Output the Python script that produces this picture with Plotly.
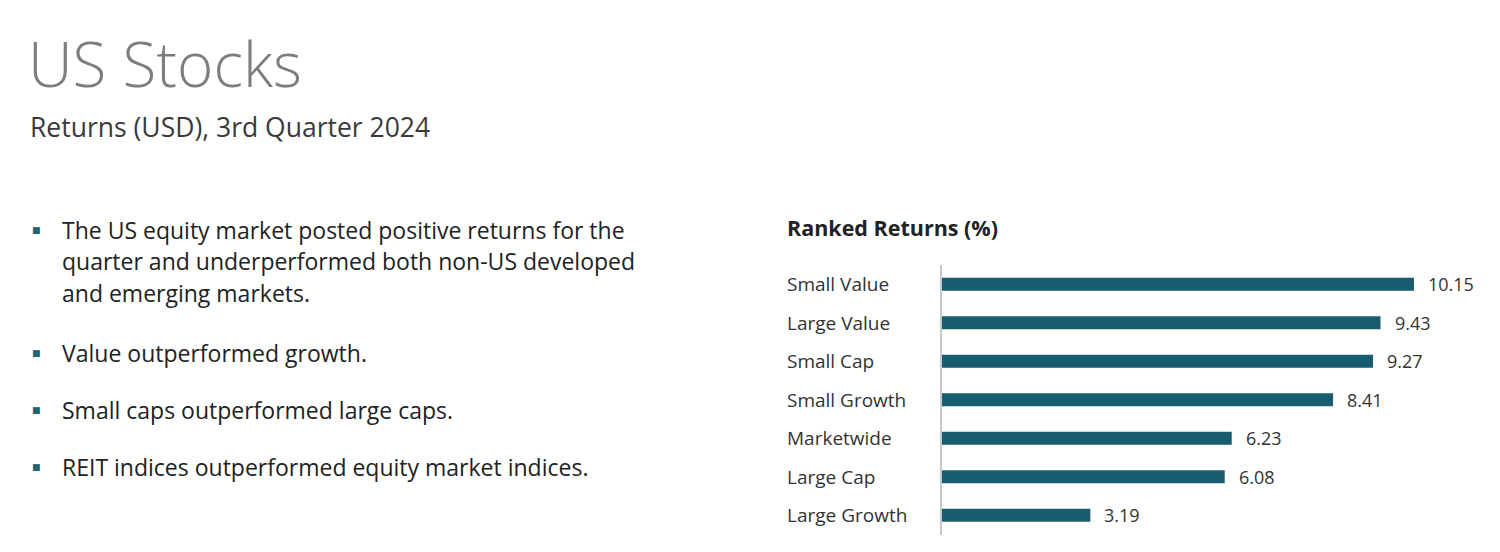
import plotly.graph_objects as go

categories = ["Small Value", "Large Value", "Small Cap", "Small Growth", "Marketwide", "Large Cap", "Large Growth"]
returns = [10.15, 9.43, 9.27, 8.41, 6.23, 6.08, 3.19]
value_labels = ["10.15", "9.43", "9.27", "8.41", "6.23", "6.08", "3.19"]

title_text = "US Stocks"
subtitle_text = "Returns (USD), 3rd Quarter 2024"
chart_title = "Ranked Returns (%)"
bullet_lines = [
    ["The US equity market posted positive returns for the",
     "quarter and underperformed both non-US developed",
     "and emerging markets."],
    ["Value outperformed growth."],
    ["Small caps outperformed large caps."],
    ["REIT indices outperformed equity market indices."],
]

# page body has an 8px margin; size the figure so it fits the 1500x552 window
OFF = 8
W, H = 1500 - 2 * OFF, 552 - 2 * OFF
BAR = "#175c70"
FONT = "Open Sans"

def px(x):
    return (x - OFF) / W

def py(y):
    return 1 - (y - OFF) / H

x0, x1 = 942, 1490
scale = 46.5
fig = go.Figure(go.Bar(
    x=returns, y=categories, orientation="h",
    marker=dict(color=BAR, line=dict(width=0)), width=0.34,
    hoverinfo="skip",
))

ann = []
ann.append(dict(x=px(26), y=py(63), xref="paper", yref="paper", text=title_text, showarrow=False,
                xanchor="left", yanchor="middle", font=dict(family=FONT, size=62, color="#7d7d7d", weight=300)))
ann.append(dict(x=px(28), y=py(127), xref="paper", yref="paper", text=subtitle_text, showarrow=False,
                xanchor="left", yanchor="middle", font=dict(family=FONT, size=26.5, color="#3a3a3a")))
ann.append(dict(x=px(785), y=py(228), xref="paper", yref="paper", text="<b>" + chart_title + "</b>", showarrow=False,
                xanchor="left", yanchor="middle", font=dict(family=FONT, size=21.5, color="#222222")))

bullet_y = [230, 353, 410, 467]
for b, lines in enumerate(bullet_lines):
    y0 = bullet_y[b]
    ann.append(dict(x=px(30), y=py(y0), xref="paper", yref="paper", text="■", showarrow=False,
                    xanchor="left", yanchor="middle", font=dict(family="DejaVu Sans", size=9, color="#1f6578")))
    for i, line in enumerate(lines):
        ann.append(dict(x=px(60), y=py(y0 + i * 31.5), xref="paper", yref="paper", text=line, showarrow=False,
                        xanchor="left", yanchor="middle", font=dict(family=FONT, size=23, color="#222222")))

for c, v, t in zip(categories, returns, value_labels):
    ann.append(dict(x=px(785), y=c, xref="paper", yref="y", text=c, showarrow=False,
                    xanchor="left", yanchor="middle", font=dict(family=FONT, size=19, color="#333333")))
    ann.append(dict(x=v, y=c, xref="x", yref="y", text=t, showarrow=False, xshift=12,
                    xanchor="left", yanchor="middle", font=dict(family=FONT, size=18, color="#333333")))

fig.update_layout(
    width=W, height=H,
    margin=dict(l=0, r=0, t=0, b=0),
    paper_bgcolor="white", plot_bgcolor="white",
    showlegend=False,
    annotations=ann,
    xaxis=dict(domain=[px(x0), px(x1)], range=[0, (x1 - x0) / scale], visible=False, fixedrange=True),
    yaxis=dict(domain=[py(534.5), py(265)], categoryorder="array", categoryarray=categories[::-1],
               autorange=False, range=[-0.5, len(categories) - 0.5],
               showticklabels=False, showgrid=False, zeroline=False,
               showline=True, linecolor="#c8c8c8", linewidth=2, ticks="", fixedrange=True),
)

fig.write_html("out.html")
